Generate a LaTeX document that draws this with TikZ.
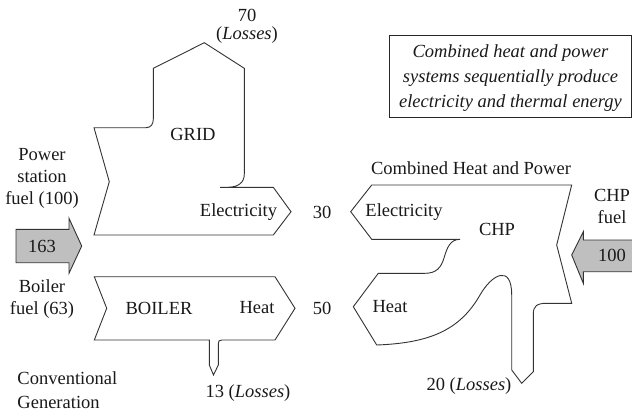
\documentclass[tikz,border=0pt]{standalone}
\usepackage{fontspec}
\setmainfont{Liberation Serif}
\begin{document}
\begin{tikzpicture}[x=1pt,y=-1pt, line width=0.9pt, line join=miter,
  txt/.style={font=\fontsize{18.5}{22}\selectfont, inner sep=0pt, align=center, text=black!90},
  boxtxt/.style={font=\fontsize{18.5}{25}\selectfont\itshape, inner sep=0pt, align=center, text=black!90},
  flowshape/.style={draw=black!80, fill=white},
  fuelarrow/.style={draw=black!80, fill=black!25}]
\useasboundingbox (0,0) rectangle (632,415);

% GRID shape
\draw[flowshape] (220,187.3) -- (273.3,187.3) -- (291,211.7) -- (273.3,235) -- (94,235)
  -- (109.3,181.7) -- (94,127.7) -- (146,127.7)
  .. controls (151,127.7) and (153.3,124) .. (153.3,119)
  -- (153.3,68.3) -- (204.3,42.7) -- (244.3,68.3) -- (244.3,174)
  .. controls (244.3,183) and (238,187.3) .. (227,187.3);

% BOILER shape
\draw[flowshape] (94.3,276.7) -- (275,276.7) -- (295,308.3) -- (275,340) -- (222,340)
  .. controls (219,340) and (218.3,341) .. (218.3,344) -- (218.3,365) -- (213.5,375)
  -- (209.3,365) -- (209.3,340) -- (94.3,340) -- (106.7,308.3) -- cycle;

% fuel arrow 163
\draw[fuelarrow] (16,229.3) -- (69,229.3) -- (69,218.3) -- (81.7,246) -- (69,273.3)
  -- (69,262.7) -- (16,262.7) -- cycle;

% CHP shape
\draw[flowshape] (571.7,185) -- (371.7,185) -- (350.7,211.7) -- (371.7,239.3) -- (460,239.3)
  .. controls (450,239.3) and (447,248) .. (444,258)
  .. controls (441,268) and (436,273.3) .. (425,273.3)
  -- (378.3,273.3) -- (353.3,306.7) -- (376.7,345)
  .. controls (430,343) and (460,330) .. (480,295)
  .. controls (492,274) and (511.7,264) .. (511.7,295)
  -- (511.7,370) -- (521.7,383.3) -- (533.3,371.7) -- (533.3,314)
  .. controls (533.3,306) and (537,303.3) .. (546.7,303.3)
  -- (571.7,303.3) -- (556.7,245) -- cycle;

% CHP fuel arrow (open at right edge)
\path[fuelarrow] (632,240) -- (583.3,240) -- (583.3,231.7) -- (571.7,255)
  -- (583.3,283.3) -- (583.3,271.7) -- (632,271.7);

% note box
\draw[draw=black!85] (389.3,35) rectangle (631,117.3);
\node[boxtxt] (note) at (510.5,78) {Combined heat and power\\systems sequentially produce\\electricity and thermal energy};

% texts
\node[txt] (l70) at (247,15) {70};
\node[txt] (l70b) at (247,35) {(\textit{Losses})};
\node[txt] (grid) at (193,134) {GRID};
\node[txt] (elec1) at (238.5,212) {Electricity};
\node[txt] (v30) at (322,212) {30};
\node[txt] (psf) at (42,178) {Power\\station\\fuel (100)};
\node[txt] (v163) at (42,246) {163};
\node[txt] (bf) at (42,299) {Boiler\\fuel (63)};
\node[txt] (boiler) at (159,308) {BOILER};
\node[txt] (heat1) at (257,308) {Heat};
\node[txt] (v50) at (322,308) {50};
\node[txt, align=left, anchor=west, font=\fontsize{18.5}{24}\selectfont] (conv) at (17,390) {Conventional\\Generation};
\node[txt] (l13) at (248,393) {13 (\textit{Losses})};
\node[txt] (chpt) at (471,168) {Combined Heat and Power};
\node[txt] (elec2) at (404,212) {Electricity};
\node[txt] (chp) at (497,229) {CHP};
\node[txt] (heat2) at (390,307) {Heat};
\node[txt] (l20) at (469,386) {20 (\textit{Losses})};
\node[txt] (chpf) at (612,206) {CHP\\fuel};
\node[txt] (v100) at (612,255) {100};
\end{tikzpicture}
\end{document}
